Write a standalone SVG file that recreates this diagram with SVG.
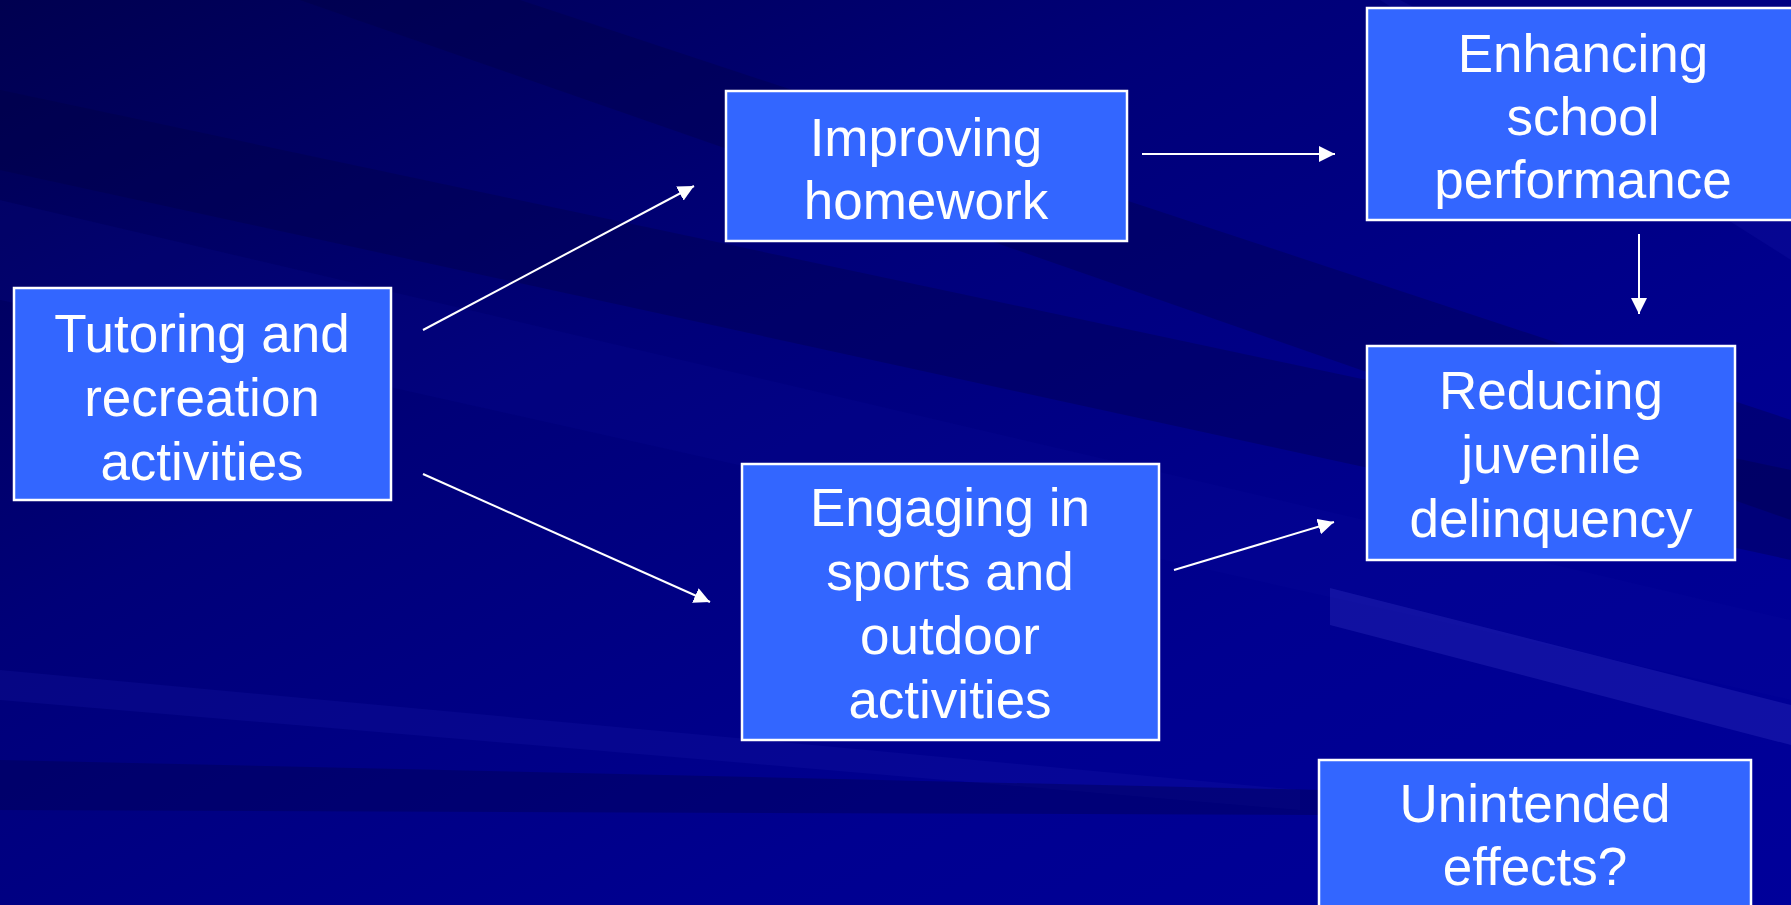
<svg xmlns="http://www.w3.org/2000/svg" width="1791" height="905" viewBox="0 0 1791 905">
<defs>
<linearGradient id="bg" x1="0" y1="0" x2="1" y2="1">
<stop offset="0" stop-color="#000050"/>
<stop offset="0.35" stop-color="#000078"/>
<stop offset="0.7" stop-color="#000090"/>
<stop offset="1" stop-color="#00009a"/>
</linearGradient>
<marker id="ah" markerUnits="userSpaceOnUse" markerWidth="17" markerHeight="16" refX="16" refY="8" orient="auto">
<path d="M0,0 L16,8 L0,16 z" fill="#ffffff"/>
</marker>
<style>
.box{fill:#3366ff;stroke:#ffffff;stroke-width:2.5}
.lbl{font-family:"Liberation Sans",Arial,sans-serif;font-size:53px;fill:#ffffff;text-anchor:middle}
.con{stroke:#ffffff;stroke-width:2;fill:none;marker-end:url(#ah)}
</style>
</defs>
<g id="background">
<rect x="0" y="0" width="1791" height="905" fill="url(#bg)"/>
<polygon points="0,90 0,170 1791,560 1791,470" fill="#000040" opacity="0.3"/>
<polygon points="0,200 0,300 1791,700 1791,620" fill="#1010a0" opacity="0.15"/>
<polygon points="300,0 520,0 1791,420 1791,520" fill="#000040" opacity="0.3"/>
<polygon points="0,670 0,700 1300,810 1300,790" fill="#2020b0" opacity="0.2"/>
<polygon points="0,760 0,810 1320,815 1320,790" fill="#000050" opacity="0.4"/>
<polygon points="1330,588 1791,705 1791,745 1330,625" fill="#3030c0" opacity="0.35"/>
<polygon points="1400,0 1791,200 1791,260 1380,0" fill="#2020b0" opacity="0.2"/>
</g>
<g id="connectors">
<line class="con" x1="423" y1="330" x2="694" y2="186"/>
<line class="con" x1="423" y1="474" x2="710" y2="602"/>
<line class="con" x1="1142" y1="154" x2="1335" y2="154"/>
<line class="con" x1="1639" y1="234" x2="1639" y2="314"/>
<line class="con" x1="1174" y1="570" x2="1334" y2="522"/>
</g>
<g id="tutoring">
<rect class="box" x="14" y="288" width="377" height="212"/>
<text class="lbl" x="202" y="352">Tutoring and</text>
<text class="lbl" x="202" y="416">recreation</text>
<text class="lbl" x="202" y="480">activities</text>
</g>
<g id="improving">
<rect class="box" x="726" y="91" width="401" height="150"/>
<text class="lbl" x="926" y="156">Improving</text>
<text class="lbl" x="926" y="219">homework</text>
</g>
<g id="enhancing">
<rect class="box" x="1367" y="8" width="430" height="212"/>
<text class="lbl" x="1583" y="72">Enhancing</text>
<text class="lbl" x="1583" y="135">school</text>
<text class="lbl" x="1583" y="198">performance</text>
</g>
<g id="reducing">
<rect class="box" x="1367" y="346" width="368" height="214"/>
<text class="lbl" x="1551" y="409">Reducing</text>
<text class="lbl" x="1551" y="473">juvenile</text>
<text class="lbl" x="1551" y="537">delinquency</text>
</g>
<g id="engaging">
<rect class="box" x="742" y="464" width="417" height="276"/>
<text class="lbl" x="950" y="526">Engaging in</text>
<text class="lbl" x="950" y="590">sports and</text>
<text class="lbl" x="950" y="654">outdoor</text>
<text class="lbl" x="950" y="718">activities</text>
</g>
<g id="unintended">
<rect class="box" x="1319" y="760" width="432" height="160"/>
<text class="lbl" x="1535" y="822">Unintended</text>
<text class="lbl" x="1535" y="885">effects?</text>
</g>
</svg>
